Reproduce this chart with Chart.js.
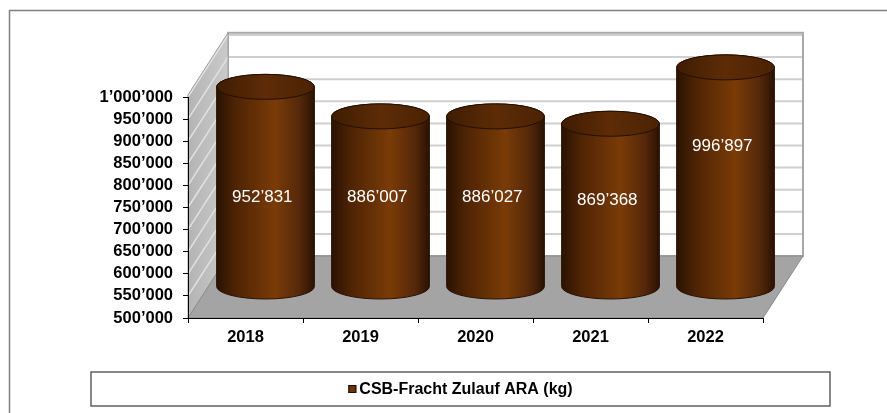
<!DOCTYPE html>
<html>
<head>
<meta charset="utf-8">
<script src="https://cdn.jsdelivr.net/npm/chart.js@4"></script>
<style>
  html, body { margin: 0; padding: 0; background: #fff; }
  #wrap { width: 887px; height: 413px; }
</style>
</head>
<body>
<div id="wrap"><canvas id="myChart" width="887" height="413"></canvas></div>
<script>
const years = ['2018', '2019', '2020', '2021', '2022'];
const csbLoad = [952831, 886007, 886027, 869368, 996897];
const seriesName = 'CSB-Fracht Zulauf ARA (kg)';
const yMin = 500000;
const yMax = 1000000;
const yStep = 50000;

const FONT = "'Liberation Sans', Arial, sans-serif";

const fmt = v => Math.round(v).toString().replace(/\B(?=(\d{3})+(?!\d))/g, '\u2019');

// floor, side wall and back wall of the excel-style 3d plot
const walls3d = {
    id: 'walls3d',
    beforeDraw(chart, args, opts) {
        const {ctx, chartArea: a, scales: {y}} = chart;
        const dx = opts.dx, dy = opts.dy;
        const yb = y.getPixelForValue(yMin);
        const yt = y.getPixelForValue(opts.wallTop);
        ctx.save();

        // back wall
        ctx.fillStyle = '#ffffff';
        ctx.fillRect(a.left + dx, yt + dy, a.right - a.left, yb - yt);
        ctx.strokeStyle = '#cfcfcf';
        ctx.lineWidth = 2;
        for (let v = yMin + yStep; v <= yMax; v += yStep) {
            const py = y.getPixelForValue(v) + dy;
            ctx.beginPath();
            ctx.moveTo(a.left + dx, py);
            ctx.lineTo(a.right + dx, py);
            ctx.stroke();
        }
        ctx.strokeStyle = '#a9a9a9';
        ctx.lineWidth = 2;
        ctx.strokeRect(a.left + dx, yt + dy, a.right - a.left, yb - yt);

        // left side wall
        const lg = ctx.createLinearGradient(a.left, 0, a.left + dx, 0);
        lg.addColorStop(0, '#b4b4b4');
        lg.addColorStop(1, '#cacaca');
        ctx.beginPath();
        ctx.moveTo(a.left, yb);
        ctx.lineTo(a.left, yt);
        ctx.lineTo(a.left + dx, yt + dy);
        ctx.lineTo(a.left + dx, yb + dy);
        ctx.closePath();
        ctx.fillStyle = lg;
        ctx.fill();
        ctx.strokeStyle = '#e2e2e2';
        ctx.lineWidth = 1.5;
        for (let v = yMin + yStep; v <= yMax; v += yStep) {
            const py = y.getPixelForValue(v);
            ctx.beginPath();
            ctx.moveTo(a.left, py);
            ctx.lineTo(a.left + dx, py + dy);
            ctx.stroke();
        }
        ctx.beginPath();
        ctx.moveTo(a.left, yb);
        ctx.lineTo(a.left, yt);
        ctx.lineTo(a.left + dx, yt + dy);
        ctx.lineTo(a.left + dx, yb + dy);
        ctx.closePath();
        ctx.strokeStyle = '#a0a0a0';
        ctx.lineWidth = 1;
        ctx.stroke();

        // floor
        ctx.beginPath();
        ctx.moveTo(a.left, yb);
        ctx.lineTo(a.right, yb);
        ctx.lineTo(a.right + dx, yb + dy);
        ctx.lineTo(a.left + dx, yb + dy);
        ctx.closePath();
        ctx.fillStyle = '#a4a4a4';
        ctx.fill();
        ctx.strokeStyle = '#8a8a8a';
        ctx.lineWidth = 1;
        ctx.stroke();

        ctx.restore();
    }
};

const drawCylinder = (ctx, cx, r, yTop, yBot, ry) => {
    const g = ctx.createLinearGradient(cx - r, 0, cx + r, 0);
    g.addColorStop(0, '#2a1202');
    g.addColorStop(0.2, '#4f2404');
    g.addColorStop(0.6, '#7a3b07');
    g.addColorStop(0.85, '#55280a');
    g.addColorStop(1, '#2a1202');

    ctx.beginPath();
    ctx.moveTo(cx - r, yTop);
    ctx.lineTo(cx - r, yBot);
    ctx.ellipse(cx, yBot, r, ry, 0, Math.PI, 0, true);
    ctx.lineTo(cx + r, yTop);
    ctx.ellipse(cx, yTop, r, ry, 0, 0, Math.PI, true);
    ctx.closePath();
    ctx.fillStyle = g;
    ctx.fill();
    ctx.strokeStyle = '#2a1000';
    ctx.lineWidth = 1;
    ctx.stroke();

    // top face
    const tg = ctx.createLinearGradient(cx - r, 0, cx + r, 0);
    tg.addColorStop(0, '#3e1c03');
    tg.addColorStop(0.5, '#5e2c06');
    tg.addColorStop(1, '#4a2204');
    ctx.beginPath();
    ctx.ellipse(cx, yTop, r, ry, 0, 0, Math.PI * 2);
    ctx.fillStyle = tg;
    ctx.fill();
    ctx.strokeStyle = '#241000';
    ctx.stroke();
};

const cylinders = {
    id: 'cylinders',
    afterDatasetsDraw(chart, args, opts) {
        const {ctx, scales: {y}} = chart;
        const meta = chart.getDatasetMeta(0);
        ctx.save();
        meta.data.forEach((bar, i) => {
            const p = bar.getProps(['x', 'y', 'base', 'width'], true);
            const cx = p.x + opts.dx / 2;
            drawCylinder(ctx, cx, p.width / 2, p.y + opts.dy / 2, p.base + opts.dy / 2, opts.ry);
        });
        ctx.fillStyle = '#ffffff';
        ctx.font = '17px ' + FONT;
        ctx.textAlign = 'center';
        ctx.textBaseline = 'middle';
        meta.data.forEach((bar, i) => {
            const p = bar.getProps(['x'], true);
            const v = chart.data.datasets[0].data[i];
            ctx.fillText(fmt(v), p.x + opts.dx * 0.42, y.getPixelForValue(opts.labelAt[i]));
        });
        ctx.restore();
    }
};

// boxed legend and outer frame
const boxLegend = {
    id: 'boxLegend',
    afterDraw(chart, args, opts) {
        const ctx = chart.ctx;
        const ds = chart.data.datasets[0];
        ctx.save();
        ctx.strokeStyle = '#808080';
        ctx.lineWidth = 1.5;
        ctx.strokeRect(9.5, 10.5, 1000, 1000);

        const b = opts.box;
        ctx.strokeStyle = '#606060';
        ctx.lineWidth = 1.5;
        ctx.strokeRect(b.x, b.y, b.w, b.h);

        ctx.font = 'bold 16px ' + FONT;
        const tw = ctx.measureText(ds.label).width;
        const total = 8 + 3 + tw;
        const sx = b.x + b.w / 2 - total / 2;
        const cy = b.y + b.h / 2;
        ctx.fillStyle = opts.color;
        ctx.fillRect(sx, cy - 4, 8, 8);
        ctx.strokeStyle = '#1e0c00';
        ctx.lineWidth = 1;
        ctx.strokeRect(sx + 0.5, cy - 3.5, 7, 7);
        ctx.fillStyle = '#000';
        ctx.textAlign = 'left';
        ctx.textBaseline = 'middle';
        ctx.fillText(ds.label, sx + 11, cy + 1);
        ctx.restore();
    }
};

const tickFont = { family: FONT, size: 16.5, weight: 'bold' };

new Chart(document.getElementById('myChart'), {
    type: 'bar',
    data: {
        labels: years,
        datasets: [{
            label: seriesName,
            data: csbLoad,
            base: yMin,
            backgroundColor: 'rgba(0,0,0,0)',
            borderWidth: 0,
            categoryPercentage: 1,
            barPercentage: 0.85
        }]
    },
    options: {
        responsive: false,
        animation: false,
        devicePixelRatio: 1,
        layout: { padding: { left: 9, top: 97, right: 124, bottom: 65 } },
        plugins: {
            legend: { display: false },
            tooltip: { enabled: false },
            walls3d: { dx: 40, dy: -62, wallTop: 1005000 },
            cylinders: { dx: 40, dy: -62, ry: 12.5, labelAt: [772000, 772000, 772000, 767000, 889000] },
            boxLegend: { box: { x: 91, y: 372, w: 739, h: 34 }, color: '#6b340b' }
        },
        scales: {
            x: {
                grid: { display: true, drawOnChartArea: false, drawTicks: true, tickLength: 5, color: '#000', offset: true },
                border: { display: true, color: '#000', width: 1 },
                ticks: { color: '#000', font: tickFont, padding: 5, maxRotation: 0 },
                afterFit: s => { s.height = 30; }
            },
            y: {
                min: yMin,
                max: yMax,
                ticks: { stepSize: yStep, autoSkip: false, color: '#000', font: tickFont, padding: 10, callback: v => fmt(v) },
                grid: { drawOnChartArea: false, drawTicks: true, tickLength: 5, color: '#000' },
                border: { display: true, color: '#000', width: 1 },
                afterFit: s => { s.width = 179; }
            }
        }
    },
    plugins: [walls3d, cylinders, boxLegend]
});
</script>
</body>
</html>
